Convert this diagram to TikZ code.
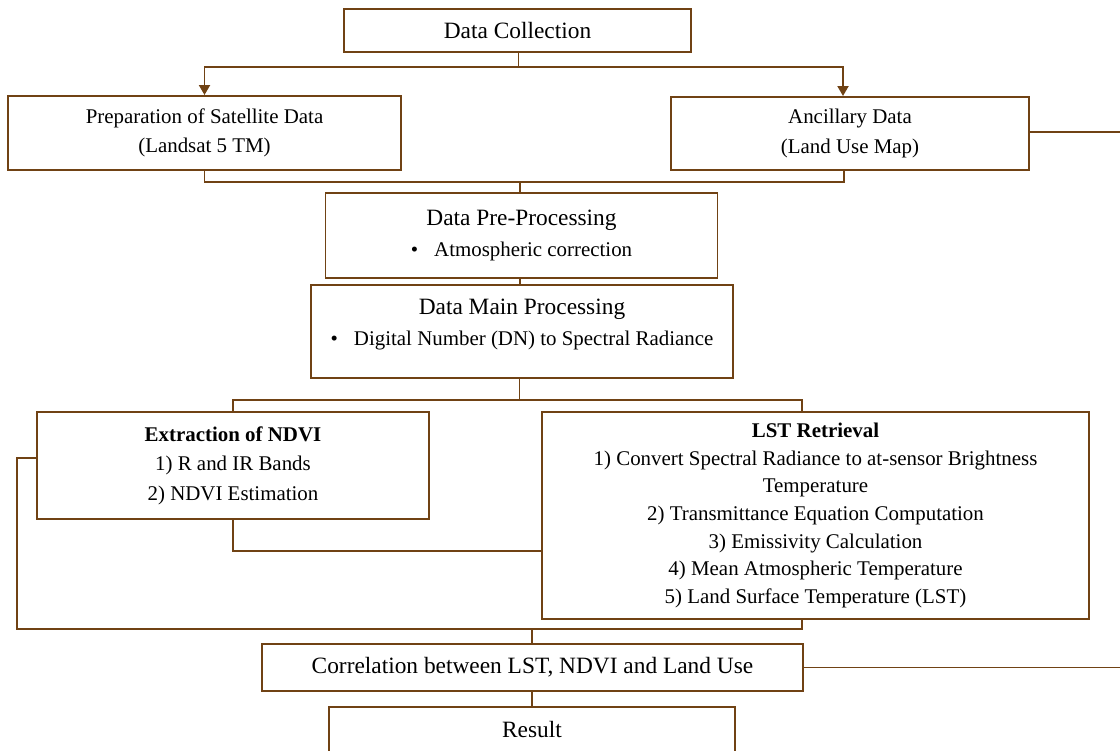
\documentclass[tikz,border=0pt]{standalone}
\usepackage{fontspec}
\setmainfont{Liberation Serif}
\usetikzlibrary{arrows.meta}
\definecolor{flowbrown}{RGB}{112,66,20}
\tikzset{
  % boxes of the flow chart
  box/.style = {draw=flowbrown, line width=1.1pt, align=center, inner sep=0pt,
                font=\fontsize{11.9}{16.8}\selectfont},
  bigbox/.style = {box, font=\fontsize{13.3}{16}\selectfont},
  % connectors
  link/.style = {draw=flowbrown, line width=1.1pt},
  arrowlink/.style = {link, -{Triangle[width=0.22cm,length=0.2cm]}}
}
\newcommand{\boxtitle}[1]{{\fontsize{13.3}{16}\selectfont #1}}

\begin{document}
\begin{tikzpicture}
    \useasboundingbox (0,0) rectangle (22.4,-15.02);
    % Data collection on top
    \node[bigbox, minimum width=6.94cm, minimum height=0.86cm] (collect) at (10.35,-0.61) {Data Collection};
    % The two data sources
    \node[box, minimum width=7.86cm, minimum height=1.48cm] (satellite) at (4.09,-2.66)
        {Preparation of Satellite Data\\(Landsat 5 TM)};
    \node[box, minimum width=7.16cm, minimum height=1.46cm] (ancillary) at (17.0,-2.67)
        {Ancillary Data\\(Land Use Map)};
    % Processing steps
    \node[box, minimum width=7.84cm, minimum height=1.7cm] (preproc) at (10.43,-4.71)
        {\boxtitle{Data Pre-Processing}\\[1pt] •\hspace{0.32cm}Atmospheric correction};
    \node[box, minimum width=8.44cm, minimum height=1.86cm, text depth=0.38cm] (mainproc) at (10.44,-6.63)
        {\boxtitle{Data Main Processing}\\[1pt] •\hspace{0.32cm}Digital Number (DN) to Spectral Radiance};
    % NDVI and LST branches
    \node[box, minimum width=7.84cm, minimum height=2.14cm] (ndvi) at (4.66,-9.31)
        {\textbf{Extraction of NDVI}\\1) R and IR Bands\\2) NDVI Estimation};
    \node[box, minimum width=10.94cm, minimum height=4.14cm, font=\fontsize{11.9}{15.7}\selectfont] (lst) at (16.31,-10.31)
        {\textbf{LST Retrieval}\\1) Convert Spectral Radiance to at-sensor Brightness\\Temperature\\
         2) Transmittance Equation Computation\\3) Emissivity Calculation\\
         4) Mean Atmospheric Temperature\\5) Land Surface Temperature (LST)};
    % Correlation and result
    \node[bigbox, minimum width=10.82cm, minimum height=0.94cm] (corr) at (10.65,-13.35)
        {Correlation between LST, NDVI and Land Use};
    \node[bigbox, minimum width=8.12cm, minimum height=0.92cm] (result) at (10.64,-14.6) {Result};

    % Junction points
    \coordinate (split) at (10.37,-1.34);
    \coordinate (merge) at (10.4,-3.64);
    \coordinate (branch) at (10.39,-8.0);
    \coordinate (gather) at (10.64,-12.58);
    \coordinate (edge) at (22.5,0);
    % Data collection to the sources
    \draw[link] (collect.south -| split) -- (split);
    \draw[arrowlink] (split) -| (satellite.north);
    \draw[arrowlink] (split) -| ([xshift=-0.14cm]ancillary.north);
    % Sources to pre-processing
    \draw[link] (satellite.south) |- (merge) -| ([xshift=-0.12cm]ancillary.south);
    \draw[link] (merge) -- (merge |- preproc.north);
    \draw[link] (preproc.south -| merge) -- (mainproc.north -| merge);
    % Main processing to the branches
    \draw[link] (mainproc.south -| branch) -- (branch);
    \draw[link] (ndvi.north) |- (branch) -| ([xshift=-0.27cm]lst.north);
    \draw[link] (ndvi.south) |- (lst.west |- 0,-11.02);
    % Branches to correlation
    \draw[link] ([yshift=0.15cm]ndvi.west) -| (0.34,-12.58) -| ([xshift=-0.27cm]lst.south);
    \draw[link] (gather) -- (gather |- corr.north);
    \draw[link] (gather |- corr.south) -- (gather |- result.north);
    % Lines running off to the right
    \draw[link] ([yshift=0.03cm]ancillary.east) -- ([yshift=0.03cm]ancillary.east -| edge);
    \draw[link] (corr.east) -- (corr.east -| edge);
\end{tikzpicture}
\end{document}
